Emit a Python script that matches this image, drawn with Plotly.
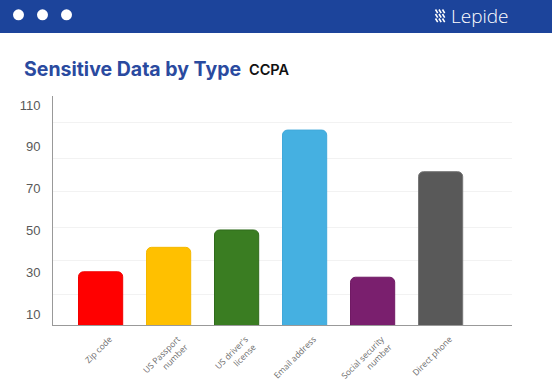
import plotly.graph_objects as go

# ---- data ----
categories = ["Zip code", "US Passport<br>number", "US driver's<br>license",
              "Email address", "Social security<br>number", "Direct phone"]
values = [30.2, 41.9, 50.2, 98.0, 27.6, 78.1]
bar_colors = ["#FF0000", "#FFC000", "#3A7D22", "#45B0E1", "#7A1F6E", "#595959"]
line_colors = ["#F20000", "#F5B800", "#2F6B1B", "#40A8DA", "#701A64", "#777777"]
y_tickvals = [10, 30, 50, 70, 90, 110]
y_ticktext = ["10", "30", "50", "70", "90", "110"]
grid_vals = [19.1, 35.4, 51.6, 68.4, 84.6, 101.4]

W, H = 552, 380
L, R, T, B = 53, 40, 96, 55
PW, PH = W - L - R, H - T - B


def px(x):
    return (x - L) / PW


def py(y):
    return (H - B - y) / PH


fig = go.Figure(go.Bar(
    x=list(range(len(categories))), y=values,
    marker=dict(color=bar_colors, line=dict(color=line_colors, width=1), cornerradius=5),
    width=0.65, base=0,
))

shapes = []
# header bar
shapes.append(dict(type="rect", xref="paper", yref="paper", x0=px(0), x1=px(W), y0=py(33), y1=py(0),
                   fillcolor="#1C449B", line=dict(width=0), layer="above"))
for cx in [18.5, 42.5, 66.5]:
    shapes.append(dict(type="circle", xref="paper", yref="paper", x0=px(cx - 5.5), x1=px(cx + 5.5),
                       y0=py(14.8 + 5.5), y1=py(14.8 - 5.5), fillcolor="white", line=dict(width=0), layer="above"))
# logo icon: stacked slanted strokes
path = ""
for row_top in [9.5, 14, 18.5]:
    for sx in [435.5, 439, 442.5]:
        path += f"M{px(sx)},{py(row_top)} L{px(sx + 2.2)},{py(row_top + 3.6)} "
shapes.append(dict(type="path", xref="paper", yref="paper", path=path,
                   line=dict(color="white", width=1.6), layer="above"))

annotations = [
    dict(text="Lepide", xref="paper", yref="paper", x=px(449), y=py(16), xanchor="left", yanchor="middle",
         showarrow=False, font=dict(family="Open Sans", size=19, color="white", weight=300)),
    dict(text="Sensitive Data by Type", xref="paper", yref="paper", x=px(22), y=py(69), xanchor="left",
         yanchor="middle", showarrow=False, font=dict(family="Inter", size=19.5, color="#2A4A9F", weight=700)),
    dict(text="CCPA", xref="paper", yref="paper", x=px(247), y=py(70), xanchor="left",
         yanchor="middle", showarrow=False, font=dict(family="Inter", size=14.5, color="#111111", weight=600)),
]

fig.update_layout(
    width=W, height=H, margin=dict(l=L, r=R, t=T, b=B, autoexpand=False),
    paper_bgcolor="white", plot_bgcolor="white",
    showlegend=False, shapes=shapes, annotations=annotations,
    xaxis=dict(range=[-0.70, 6.05], tickvals=list(range(len(categories))), ticktext=categories,
               tickangle=-45, tickfont=dict(family="Open Sans", size=8.5, color="#6E6E6E"),
               showline=True, linecolor="#999999", linewidth=1, showgrid=False, ticks="",
               ticklabelshift=9, ticklabelstandoff=5,
               zeroline=False, fixedrange=True, automargin=False),
    yaxis=dict(range=[4.74, 114.3], tickvals=y_tickvals, ticktext=y_ticktext,
               tickfont=dict(family="Liberation Sans", size=13, color="#595959"),
               showline=True, linecolor="#999999", linewidth=1, showgrid=False, ticks="",
               ticklabelstandoff=9, zeroline=False, automargin=False,
               minor=dict(tickvals=grid_vals, showgrid=True, gridcolor="#F2F2F2", gridwidth=1, ticks="")),
)

fig.write_html("out.html", config={"displayModeBar": False},
               post_script="document.body.style.margin='0';document.body.style.padding='0';"
                           "document.documentElement.style.overflow='hidden';")
